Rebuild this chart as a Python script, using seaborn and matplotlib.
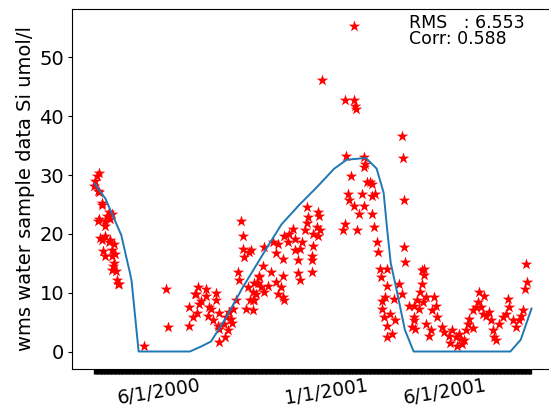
import numpy as np
import pandas as pd
import matplotlib
matplotlib.use("Agg")
import matplotlib.pyplot as plt
import seaborn as sns

# ---- data (days relative to 2000-06-01) ----
base = pd.Timestamp("2000-06-01")

model_day = [-82.3, -68.8, -48.5, -37.3, -35.3, -26.3, 39.2, 52.8, 66.2, 84.2, 106.8,
             133.8, 156.2, 178.8, 201.2, 223.8, 239.7, 264.1, 277.8, 286.8, 291.1,
             295.9, 302.7, 313.9, 325.1, 448.8, 462.0, 475.8]
model_val = [28.5, 26.0, 19.8, 13.3, 12.0, 0.0, 0.0, 0.8, 1.7, 5.5, 10.9,
             16.8, 21.6, 24.9, 27.9, 31.1, 32.6, 32.9, 31.1, 27.0, 21.0,
             15.0, 10.9, 3.7, 0.0, 0.0, 2.0, 7.3]

obs_day = [
    # spring 2000 decline
    -76.5, -81.6, -82.9, -77.4, -73.0, -63.6, -77.4, -68.8, -62.4, -75.2, -68.8, -62.4,
    -71.3, -59.8, -55.9, -58.5, -59.8, -53.3, -52.1, -73.3, -66.5, -59.8, -68.8, -77.8,
    -73.3, -64.3, -57.5, -68.8, -59.8, -57.5, -55.3, -50.8, -78.0, -79.5,
    # summer 2000
    -19.5, 8.4, 11.0,
    37.9, 37.9, 42.7, 46.9, 49.5, 50.8, 59.8, 62.0, 63.6, 68.4, 72.6, 72.6, 76.5, 76.5,
    76.5, 82.9, 85.5, 87.7, 91.9, 94.1, 98.3, 52.8, 66.2, 75.2, 84.2, 93.2, 88.8, 48.2,
    46.0, 59.5,
    # autumn rise
    104.8, 106.9, 106.9, 114.7, 109.0, 100.5, 102.6, 113.4, 119.8, 115.4, 121.5, 111.2,
    119.8, 126.2, 127.9, 117.6,
    188.3, 203.3, 190.5, 188.3, 201.2, 196.9, 203.3, 185.7, 171.2, 166.5, 160.0, 172.9,
    181.9, 164.8, 145.5, 134.3, 151.9, 172.9, 179.3, 149.7, 158.4, 194.7, 195.5, 177.6,
    132.6, 143.3, 158.4, 177.6, 179.3, 194.7, 127.9, 121.5, 130.5, 139.1, 149.7, 156.2,
    124.0, 134.3, 151.9, 158.4, 119.8, 159.0, 205.8, 203.7, 196.8,
    # winter peak
    249.1, 207.6, 236.8, 248.3, 250.4, 251.7, 310.4, 311.0, 312.6, 238.4, 261.2, 263.2,
    262.0, 245.2, 265.4, 271.9, 241.9, 259.0, 272.5, 276.1, 242.5, 248.3, 261.2, 269.7,
    272.0, 254.8, 237.5, 235.5, 252.6, 274.0, 278.3, 279.0, 313.0, 314.7, 282.5, 291.1,
    283.0, 291.5, 306.2, 336.1, 288.9, 299.7, 310.4, 284.7, 286.9, 295.4, 301.8, 297.6,
    291.1, 319.0, 325.4, 323.3, 291.6, 285.2, 338.7,
    # 2001 spring/summer
    338.3, 336.1, 333.9, 329.7, 336.6, 340.4, 325.9, 331.8, 326.0, 327.5, 351.2, 353.2,
    349.0, 355.4, 340.9, 346.8, 344.7, 361.8, 363.9, 370.4, 374.7, 378.9, 385.3, 383.3,
    387.5, 391.8, 394.0, 396.1, 400.4, 404.6, 409.0, 406.8, 413.2, 417.5, 421.9, 423.9,
    426.1, 428.3, 430.3, 434.7, 438.9, 443.2, 445.4, 447.6, 451.8, 456.1, 460.4, 462.5,
    464.7, 469.0, 469.5, 466.9, 372.0, 381.0, 390.0, 400.5, 411.0, 414.5,
]
obs_val = [
    30.3, 29.0, 28.2, 27.1, 25.2, 23.7, 22.5, 22.2, 22.5, 19.3, 19.6, 19.0,
    17.0, 17.3, 16.5, 14.5, 13.8, 12.2, 11.5, 24.9, 23.1, 23.4, 21.3, 22.2,
    18.9, 18.6, 18.3, 16.2, 16.2, 15.1, 13.6, 11.5, 27.2, 29.9,
    1.0, 10.7, 4.1,
    7.5, 4.4, 5.8, 9.8, 10.9, 8.1, 9.5, 6.1, 7.5, 5.3, 10.0, 8.7, 6.5, 3.9,
    1.6, 4.7, 5.8, 3.6, 5.6, 7.3, 8.7, 8.5, 7.3, 4.3, 2.5, 4.9, 6.7, 6.5,
    9.7, 10.6,
    22.2, 19.6, 17.5, 16.9, 16.0, 13.5, 12.1, 10.9, 10.1, 8.7, 8.7, 7.3,
    7.0, 11.6, 12.9, 17.2,
    24.5, 23.7, 22.8, 21.8, 21.1, 20.0, 19.7, 20.6, 20.9, 20.0, 19.7, 19.2,
    18.6, 18.6, 18.6, 17.7, 18.3, 17.2, 17.5, 16.7, 15.8, 16.3, 15.5, 15.5,
    14.6, 13.5, 12.9, 13.3, 12.1, 13.5, 12.6, 11.6, 10.9, 11.2, 11.8, 10.9,
    9.8, 10.1, 9.8, 9.2, 8.7, 8.7, 20.7, 23.1, 18.0,
    55.4, 46.1, 42.7, 42.8, 41.8, 41.3, 36.6, 32.9, 25.7, 33.2, 33.0, 31.9,
    31.3, 29.9, 28.8, 28.5, 26.8, 26.8, 26.5, 26.8, 25.7, 24.8, 24.8, 28.8,
    23.4, 23.4, 21.7, 20.6, 20.6, 21.1, 18.6, 16.9, 17.7, 15.2, 14.1, 14.1,
    12.6, 11.2, 11.5, 13.8, 9.2, 9.0, 9.8, 7.3, 5.8, 6.4, 5.3, 3.0,
    4.4, 7.8, 5.3, 4.1, 2.5, 8.5, 13.0,
    14.1, 11.5, 10.1, 8.7, 8.4, 9.2, 7.8, 7.3, 5.8, 3.9, 9.2, 7.8,
    7.0, 5.8, 4.7, 3.6, 2.7, 4.1, 3.3, 2.7, 3.6, 2.4, 2.2, 3.0,
    1.3, 3.6, 4.7, 5.6, 7.0, 7.5, 10.1, 8.4, 6.4, 6.1, 6.7, 5.3,
    3.6, 2.4, 1.9, 4.7, 5.8, 6.4, 9.0, 7.5, 5.3, 4.1, 5.3, 6.1,
    7.0, 14.9, 11.8, 10.7, 1.5, 1.0, 2.0, 4.0, 7.5, 9.5,
]

tick_dates = ["2000-06-01", "2001-01-01", "2001-06-01"]
tick_labels = ["6/1/2000", "1/1/2001", "6/1/2001"]

ylabel = "wms water sample data Si umol/l"
stats_text = "RMS   : 6.553\nCorr: 0.588"

# ---- frames ----
model = pd.DataFrame({"date": base + pd.to_timedelta(model_day, unit="D"), "val": model_val})
obs = pd.DataFrame({"date": base + pd.to_timedelta(obs_day, unit="D"), "val": obs_val})

plt.rcParams["font.family"] = ["DejaVu Sans"]
fig = plt.figure(figsize=(5.49, 4.07), dpi=100)
ax = fig.add_axes([0.132, 0.093, 0.876, 0.886])

sns.scatterplot(data=obs, x="date", y="val", marker="*", s=75, color="red",
                linewidth=0, ax=ax, zorder=2)
sns.lineplot(data=model, x="date", y="val", color="#1f77b4", linewidth=1.4,
             ax=ax, zorder=3)

# dense daily ticks across the data range (forms the black bar)
day_ticks = pd.date_range(obs["date"].min().normalize(), model["date"].max().normalize(), freq="D")
ax.set_xticks(day_ticks, minor=True)
ax.set_xticks(pd.to_datetime(tick_dates), tick_labels)
ax.tick_params(axis="x", which="both", length=3.5, width=1, pad=1.5,
               labelsize=13.5, labelrotation=9)
ax.tick_params(axis="y", labelsize=14, length=3, pad=3)
ax.set_xlabel("")
ax.set_ylabel(ylabel, fontsize=14, labelpad=3)
ax.set_yticks([0, 10, 20, 30, 40, 50])
ax.set_ylim(-3.0, 58.3)
ax.spines["right"].set_visible(False)

ax.text(0.70, 0.985, stats_text, transform=ax.transAxes, fontsize=12.5,
        va="top", ha="left", linespacing=0.85,
        bbox=dict(facecolor="white", edgecolor="none", alpha=0.8, pad=2))

fig.savefig("out.png", dpi=100)
